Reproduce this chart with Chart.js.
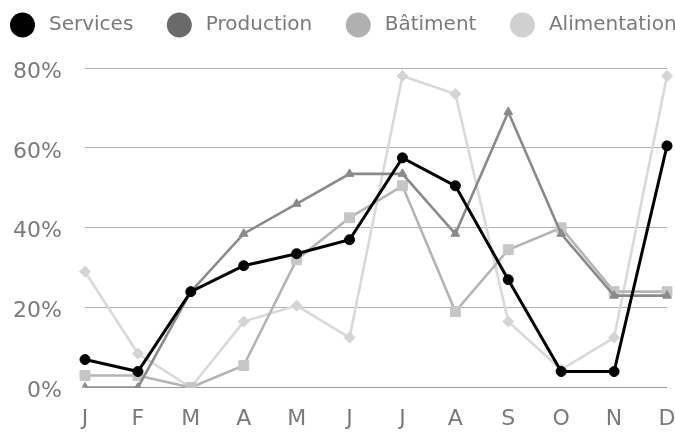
<!DOCTYPE html>
<html>
<head>
<meta charset="utf-8">
<script src="https://cdn.jsdelivr.net/npm/chart.js@4"></script>
<style>
  html, body { margin: 0; padding: 0; background: #fff; }
  #wrap { width: 675px; height: 432px; position: relative; }
</style>
</head>
<body>
<div id="wrap"><canvas id="chart"></canvas></div>
<script>
const mois = ["J", "F", "M", "A", "M", "J", "J", "A", "S", "O", "N", "D"];
const seriesNames = ["Services", "Production", "Bâtiment", "Alimentation"];

const services = [7, 4, 24, 30.5, 33.5, 37, 57.5, 50.5, 27, 4, 4, 60.5];
const production = [0, 0, 24, 38.5, 46, 53.5, 53.5, 38.5, 69, 38.5, 23, 23];
const batiment = [3, 3, 0, 5.5, 32, 42.5, 50.5, 19, 34.5, 40, 24, 24];
const alimentation = [29, 8.5, 0, 16.5, 20.5, 12.5, 78, 73.5, 16.5, 4.5, 12.5, 78];

const yTicks = [0, 20, 40, 60, 80];

const lineColors = ["#000000", "#8a8a8a", "#b4b4b4", "#d9d9d9"];
const pointColors = ["#000000", "#8a8a8a", "#c6c6c6", "#d4d4d4"];
const legendColors = ["#000000", "#6a6a6a", "#b0b0b0", "#d0d0d0"];
const textColor = "#7a7a7a";
const fontFamily = "'DejaVu Sans', Verdana, sans-serif";

// legende dessinee a la main pour garder l'espacement de l'original
const customLegend = {
    id: "customLegend",
    afterDraw(chart) {
        const ctx = chart.ctx;
        ctx.save();
        ctx.font = "20px " + fontFamily;
        ctx.textBaseline = "middle";
        ctx.textAlign = "left";
        let cx = 22.5;
        const cy = 25;
        chart.data.datasets.forEach((ds, i) => {
            ctx.fillStyle = legendColors[i];
            ctx.beginPath();
            ctx.arc(cx, cy, 12.5, 0, Math.PI * 2);
            ctx.fill();
            const tx = cx + 26.5;
            ctx.fillStyle = textColor;
            ctx.fillText(ds.label, tx, cy);
            cx = tx + ctx.measureText(ds.label).width + 46;
        });
        ctx.restore();
    }
};

function makeDataset(i, data, style, radius) {
    return {
        label: seriesNames[i],
        data: data,
        borderColor: lineColors[i],
        backgroundColor: legendColors[i],
        pointBackgroundColor: pointColors[i],
        pointBorderColor: pointColors[i],
        borderWidth: i === 0 ? 3 : 2.6,
        pointStyle: style,
        pointRadius: radius,
        pointBorderWidth: 1,
        tension: 0
    };
}

new Chart(document.getElementById("chart"), {
    type: "line",
    data: {
        labels: mois,
        datasets: [
            makeDataset(0, services, "circle", 5),
            makeDataset(1, production, "triangle", 5),
            makeDataset(2, batiment, "rect", 7),
            makeDataset(3, alimentation, "rectRot", 5.5)
        ]
    },
    options: {
        responsive: true,
        maintainAspectRatio: false,
        animation: false,
        layout: { padding: { top: 68, left: 0, right: 8, bottom: 0 } },
        plugins: {
            legend: { display: false },
            tooltip: { enabled: false }
        },
        scales: {
            x: {
                offset: false,
                grid: { display: false, drawTicks: false },
                border: { display: false },
                ticks: {
                    color: textColor,
                    font: { family: fontFamily, size: 22 },
                    padding: 19,
                    maxRotation: 0,
                    autoSkip: false
                },
                afterFit(scale) {
                    scale.height = 44.5;
                    scale.paddingLeft = 0;
                    scale.paddingRight = 0;
                }
            },
            y: {
                min: 0,
                max: 80,
                grid: {
                    drawTicks: false,
                    color: ctx => ctx.tick && ctx.tick.value === 0 ? "#9a9a9a" : "#b0b0b0",
                    lineWidth: 1
                },
                border: { display: false },
                afterBuildTicks(scale) { scale.ticks = yTicks.map(v => ({ value: v })); },
                ticks: {
                    color: textColor,
                    font: { family: fontFamily, size: 22 },
                    padding: 23,
                    labelOffset: 4,
                    callback: v => v + "%"
                },
                afterFit(scale) { scale.width = 85; }
            }
        }
    },
    plugins: [customLegend]
});
</script>
</body>
</html>
